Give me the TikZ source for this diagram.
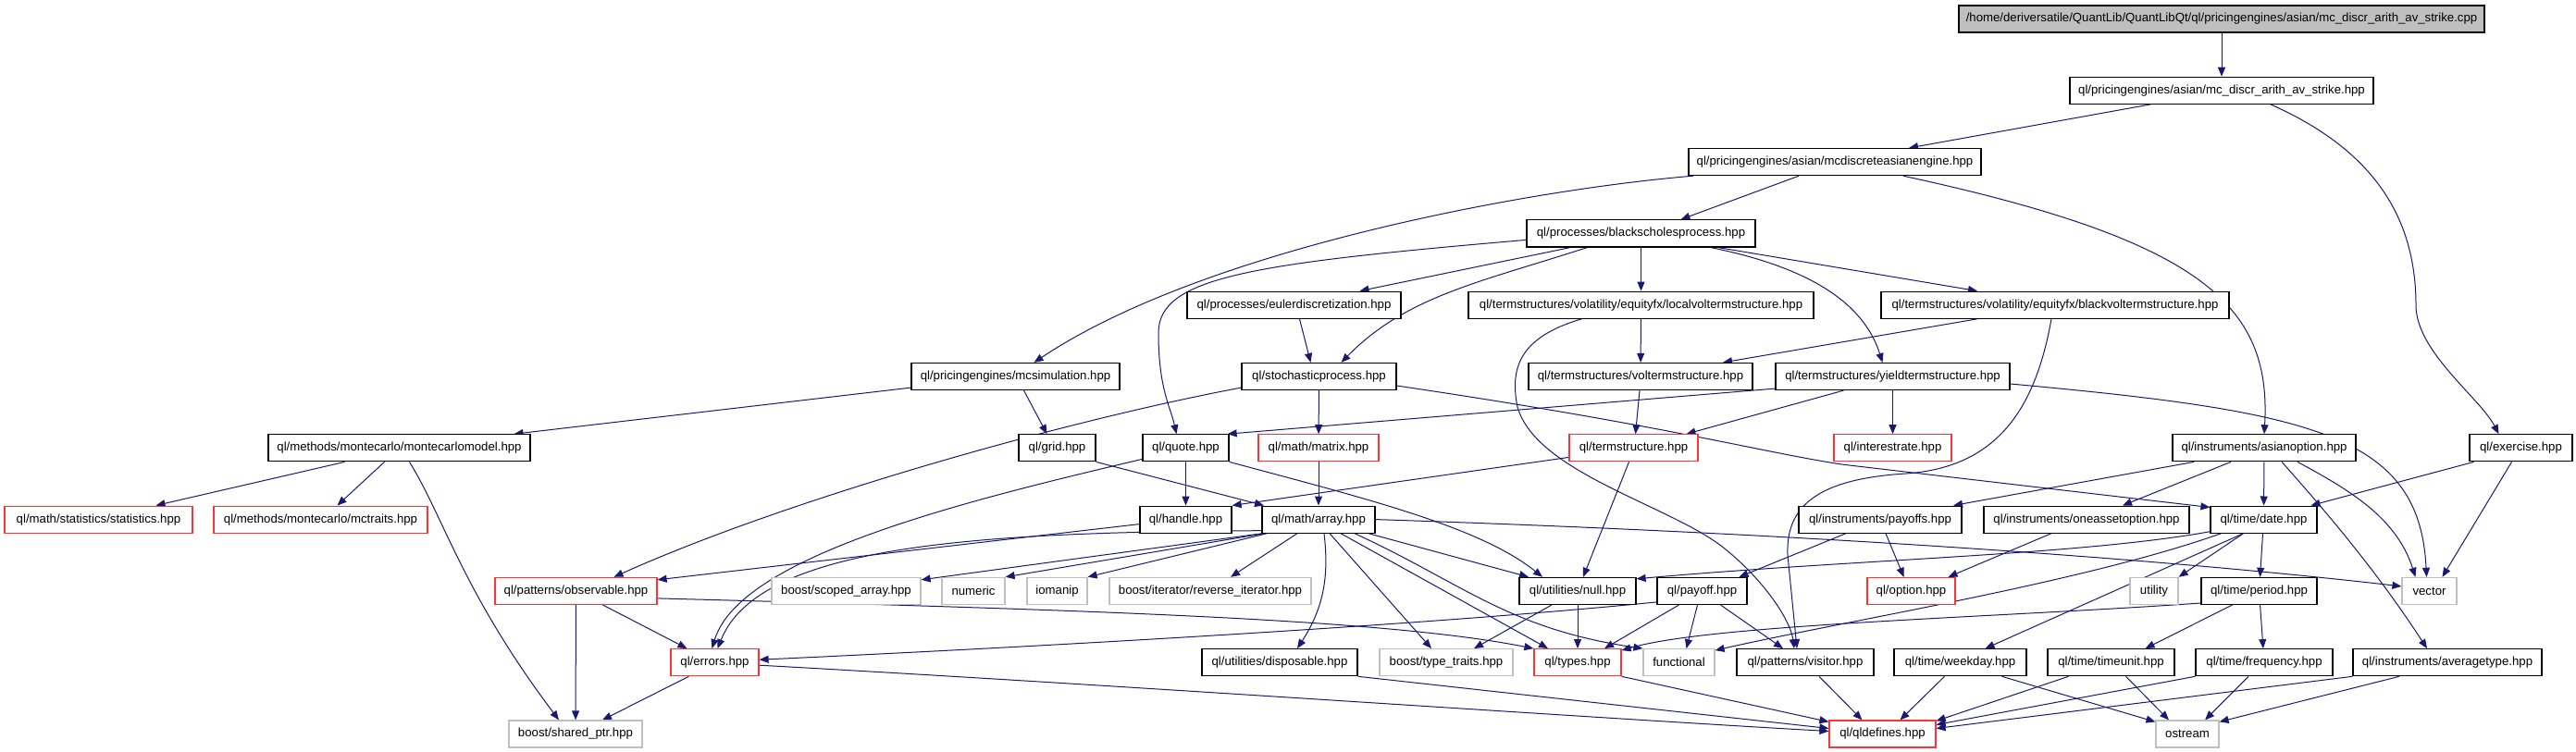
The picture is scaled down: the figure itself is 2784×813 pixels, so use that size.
\documentclass[tikz,border=0pt]{standalone}
\usepackage{fontspec}
\setmainfont{Liberation Sans}
\usetikzlibrary{arrows.meta}
\definecolor{edgecol}{RGB}{25,25,112}
\definecolor{redb}{RGB}{255,51,51}
\definecolor{grayb}{RGB}{191,191,191}
\pgfdeclarelayer{background}
\pgfsetlayers{background,main}
\begin{document}
\begin{tikzpicture}[x=1pt,y=-1pt,
  box/.style={draw=black, line width=1.2pt, minimum height=29pt, inner xsep=3pt, inner ysep=0pt, font=\fontsize{13.2}{15}\selectfont, fill=white},
  nb/.style={box},
  rb/.style={box, draw=redb},
  gb/.style={box, draw=grayb},
  rootb/.style={box, fill=grayb},
  edg/.style={draw=edgecol, line width=1pt, -{Triangle[length=10pt,width=8pt]}}]
\useasboundingbox (0,0) rectangle (2784,813);
% row 0-5
\node[rootb, minimum width=568pt] (root) at (2401,20.5) {/home/deriversatile/QuantLib/QuantLibQt/ql/pricingengines/asian/mc\_discr\_arith\_av\_strike.cpp};
\node[nb, minimum width=328pt] (mcarith) at (2401,97.8) {ql/pricingengines/asian/mc\_discr\_arith\_av\_strike.hpp};
\node[nb, minimum width=316pt] (mcdae) at (1983,175.1) {ql/pricingengines/asian/mcdiscreteasianengine.hpp};
\node[nb, minimum width=247pt] (bsp) at (1773.5,252.4) {ql/processes/blackscholesprocess.hpp};
\node[nb, minimum width=231pt] (euler) at (1398.5,329.7) {ql/processes/eulerdiscretization.hpp};
\node[nb, minimum width=373pt] (localvol) at (1773.5,329.7) {ql/termstructures/volatility/equityfx/localvoltermstructure.hpp};
\node[nb, minimum width=376pt] (blackvol) at (2221,329.7) {ql/termstructures/volatility/equityfx/blackvoltermstructure.hpp};
\node[nb, minimum width=225pt] (mcsim) at (1097.5,407) {ql/pricingengines/mcsimulation.hpp};
\node[nb, minimum width=167pt] (stoch) at (1425.5,407) {ql/stochasticprocess.hpp};
\node[nb, minimum width=242pt] (voltermstr) at (1773,407) {ql/termstructures/voltermstructure.hpp};
\node[nb, minimum width=253pt] (yield) at (2045.5,407) {ql/termstructures/yieldtermstructure.hpp};
% row 6
\node[nb, minimum width=283pt] (mcmodel) at (431.5,484.3) {ql/methods/montecarlo/montecarlomodel.hpp};
\node[nb, minimum width=83pt] (grid) at (1142.5,484.3) {ql/grid.hpp};
\node[nb, minimum width=93pt] (quote) at (1281.5,484.3) {ql/quote.hpp};
\node[rb, minimum width=130pt] (matrix) at (1425,484.3) {ql/math/matrix.hpp};
\node[rb, minimum width=139pt] (termstr) at (1765.5,484.3) {ql/termstructure.hpp};
\node[rb, minimum width=127pt] (interestrate) at (2045.5,484.3) {ql/interestrate.hpp};
\node[nb, minimum width=198pt] (asianopt) at (2447,484.3) {ql/instruments/asianoption.hpp};
\node[nb, minimum width=111pt] (exercise) at (2724.5,484.3) {ql/exercise.hpp};
% row 7
\node[rb, minimum width=203pt] (statistics) at (106.5,561.6) {ql/math/statistics/statistics.hpp};
\node[rb, minimum width=231pt] (mctraits) at (346.5,561.6) {ql/methods/montecarlo/mctraits.hpp};
\node[nb, minimum width=99pt] (handle) at (1281.5,561.6) {ql/handle.hpp};
\node[nb, minimum width=122pt] (array) at (1425,561.6) {ql/math/array.hpp};
\node[nb, minimum width=176pt] (payoffs) at (2032,561.6) {ql/instruments/payoffs.hpp};
\node[nb, minimum width=222pt] (oneasset) at (2255,561.6) {ql/instruments/oneassetoption.hpp};
\node[nb, minimum width=115pt] (date) at (2446.5,561.6) {ql/time/date.hpp};
% row 8
\node[rb, minimum width=175pt] (observable) at (622.5,638.9) {ql/patterns/observable.hpp};
\node[gb, minimum width=161pt] (scopedarray) at (914.5,638.9) {boost/scoped\_array.hpp};
\node[gb, minimum width=68pt] (numeric) at (1052,638.9) {numeric};
\node[gb, minimum width=65pt] (iomanip) at (1142.5,638.9) {iomanip};
\node[gb, minimum width=218pt] (reviter) at (1308,638.9) {boost/iterator/reverse\_iterator.hpp};
\node[nb, minimum width=126pt] (null) at (1705,638.9) {ql/utilities/null.hpp};
\node[nb, minimum width=97pt] (payoff) at (1839.5,638.9) {ql/payoff.hpp};
\node[rb, minimum width=95pt] (option) at (2065.5,638.9) {ql/option.hpp};
\node[gb, minimum width=52pt] (utility) at (2328,638.9) {utility};
\node[nb, minimum width=125pt] (period) at (2441.5,638.9) {ql/time/period.hpp};
\node[gb, minimum width=59pt] (vector) at (2625.5,638.9) {vector};
% row 9
\node[rb, minimum width=95pt] (errors) at (772.5,716.2) {ql/errors.hpp};
\node[nb, minimum width=168pt] (disposable) at (1383,716.2) {ql/utilities/disposable.hpp};
\node[gb, minimum width=144pt] (typetraits) at (1563,716.2) {boost/type\_traits.hpp};
\node[rb, minimum width=94pt] (types) at (1705,716.2) {ql/types.hpp};
\node[gb, minimum width=77pt] (functional) at (1814.5,716.2) {functional};
\node[nb, minimum width=148pt] (visitor) at (1951,716.2) {ql/patterns/visitor.hpp};
\node[nb, minimum width=143pt] (weekday) at (2118.5,716.2) {ql/time/weekday.hpp};
\node[nb, minimum width=137pt] (timeunit) at (2281.5,716.2) {ql/time/timeunit.hpp};
\node[nb, minimum width=148pt] (frequency) at (2447,716.2) {ql/time/frequency.hpp};
\node[nb, minimum width=204pt] (averagetype) at (2645,716.2) {ql/instruments/averagetype.hpp};
% row 10
\node[gb, minimum width=144pt] (sharedptr) at (622,793.5) {boost/shared\_ptr.hpp};
\node[rb, minimum width=115pt] (qldefines) at (2034.5,793.5) {ql/qldefines.hpp};
\node[gb, minimum width=68pt] (ostream) at (2364,793.5) {ostream};

\begin{pgfonlayer}{background}
\fill[white] (0,0) rectangle (2784,813);
\draw[edg] (root) -- (mcarith);
\draw[edg] ([xshift=-77pt]mcarith.south) -- ([xshift=80pt]mcdae.north);
\draw[edg] ([xshift=53pt]mcarith.south) .. controls (2560,160) and (2611,230) .. (2611,330) .. controls (2611,380) and (2680,430) .. ([xshift=-24pt]exercise.north);
\draw[edg] ([xshift=-39pt]mcdae.south) -- ([xshift=43pt]bsp.north);
\draw[edg] ([xshift=-153pt]mcdae.south) .. controls (1650,205) and (1300,270) .. ([xshift=20pt]mcsim.north);
\draw[edg] ([xshift=74pt]mcdae.south) .. controls (2380,260) and (2455,330) .. (asianopt.north);
\draw[edg] ([xshift=-76pt]bsp.south) -- ([xshift=71pt]euler.north);
\draw[edg] (bsp) -- (localvol);
\draw[edg] ([xshift=83pt]bsp.south) -- ([xshift=-84pt]blackvol.north);
\draw[edg] ([xshift=-58pt]bsp.south) .. controls (1600,305) and (1520,320) .. ([xshift=24pt]stoch.north);
\draw[edg] ([yshift=-7pt]bsp.west) .. controls (1350,285) and (1252,300) .. (1252,360) .. controls (1252,420) and (1265,440) .. ([xshift=-10pt]quote.north);
\draw[edg] ([xshift=75pt]bsp.south) .. controls (1960,290) and (2015,330) .. ([xshift=-11pt]yield.north);
\draw[edg] ([xshift=6pt]euler.south) -- ([xshift=-9pt]stoch.north);
\draw[edg] (localvol) -- (voltermstr);
\draw[edg] ([xshift=-64pt]localvol.south) .. controls (1640,365) and (1632,400) .. (1640,440) .. controls (1660,510) and (1800,545) .. (1860,590) .. controls (1905,625) and (1935,670) .. ([xshift=-12pt]visitor.north);
\draw[edg] ([xshift=-84pt]blackvol.south) -- ([xshift=89pt]voltermstr.north);
\draw[edg] ([xshift=-4pt]blackvol.south) .. controls (2200,440) and (2160,505) .. (2060,512) .. controls (1960,518) and (1930,550) .. (1932,600) -- ([xshift=-9pt]visitor.north);
\draw[edg] ([yshift=3pt]mcsim.south west) -- ([xshift=124pt]mcmodel.north);
\draw[edg] ([xshift=9pt]mcsim.south) -- ([xshift=-11pt]grid.north);
\draw[edg] (stoch) -- (matrix);
\draw[edg] ([yshift=3pt]stoch.south west) .. controls (1150,455) and (850,540) .. ([xshift=41pt]observable.north);
\draw[edg] ([yshift=-10pt]stoch.east) .. controls (1800,460) and (1900,488) .. (1990,502) -- ([yshift=-2pt]date.north west);
\draw[edg] ([xshift=-1pt]voltermstr.south) -- ([xshift=2pt]termstr.north);
\draw[edg] ([xshift=-53pt]yield.south) -- ([xshift=57pt]termstr.north);
\draw[edg] (yield) -- (interestrate);
\draw[edg] ([yshift=2pt]yield.south west) -- ([xshift=-2pt]quote.north east);
\draw[edg] ([yshift=-8pt]yield.east) .. controls (2500,445) and (2615,470) .. ([xshift=-3pt]vector.north);
\draw[edg] ([xshift=-59pt]mcmodel.south) -- ([xshift=62pt]statistics.north);
\draw[edg] ([xshift=-16pt]mcmodel.south) -- ([xshift=18pt]mctraits.north);
\draw[edg] ([xshift=11pt]mcmodel.south) .. controls (480,560) and (500,640) .. ([xshift=-18pt]sharedptr.north);
\draw[edg] (grid.south east) -- ([xshift=-59pt]array.north);
\draw[edg] (quote) -- (handle);
\draw[edg] (quote.south east) .. controls (1480,540) and (1600,570) .. ([xshift=-38pt]null.north);
\draw[edg] ([yshift=3pt]quote.south west) .. controls (1050,540) and (800,600) .. ([xshift=-3pt]errors.north);
\draw[edg] (matrix) -- (array);
\draw[edg] ([yshift=5pt]termstr.south west) -- (handle.north east);
\draw[edg] ([xshift=-5pt]termstr.south) -- ([xshift=6pt]null.north);
\draw[edg] ([xshift=-76pt]asianopt.south) -- ([xshift=79pt]payoffs.north);
\draw[edg] ([xshift=-36pt]asianopt.south) -- ([xshift=39pt]oneasset.north);
\draw[edg] (asianopt) -- (date);
\draw[edg] ([xshift=36pt]asianopt.south) .. controls (2540,530) and (2590,560) .. ([xshift=-15pt]vector.north);
\draw[edg] ([xshift=19pt]asianopt.south) .. controls (2520,560) and (2570,620) .. ([xshift=-22pt]averagetype.north);
\draw[edg] ([xshift=-51pt]exercise.south) -- ([xshift=51pt]date.north);
\draw[edg] ([xshift=-10pt]exercise.south) -- ([xshift=14pt]vector.north);
\draw[edg] ([yshift=-5pt]handle.west) -- ([yshift=-3pt]observable.north east);
\draw[edg] ([yshift=3pt]array.south west) .. controls (1050,575) and (820,590) .. ([xshift=3pt]errors.north);
\draw[edg] ([xshift=1pt]array.south west) -- ([yshift=-3pt]scopedarray.north east);
\draw[edg] ([xshift=3pt]array.south west) -- (numeric.north east);
\draw[edg] ([xshift=6pt]array.south west) -- (iomanip.north east);
\draw[edg] ([xshift=-23pt]array.south) -- ([xshift=22pt]reviter.north);
\draw[edg] ([xshift=54pt]array.south) -- ([xshift=-53pt]null.north);
\draw[edg] ([xshift=6pt]array.south) .. controls (1436,620) and (1432,655) .. ([xshift=19pt]disposable.north);
\draw[edg] ([xshift=12pt]array.south) -- ([xshift=-16pt]typetraits.north);
\draw[edg] ([xshift=24pt]array.south) -- ([xshift=-32pt]types.north);
\draw[edg] ([xshift=39pt]array.south) .. controls (1580,630) and (1630,680) .. (functional.north west);
\draw[edg] (array.east) .. controls (1900,575) and (2300,600) .. ([yshift=5pt]vector.west);
\draw[edg] ([xshift=-37pt]payoffs.south) -- ([xshift=40pt]payoff.north);
\draw[edg] ([xshift=6pt]payoffs.south) -- ([xshift=-8pt]option.north);
\draw[edg] ([xshift=-38pt]oneasset.south) -- ([xshift=40pt]option.north);
\draw[edg] ([yshift=2pt]date.south west) .. controls (2250,600) and (2000,605) .. ([yshift=-2pt]null.north east);
\draw[edg] ([xshift=-46pt]date.south) .. controls (2250,630) and (2000,670) .. ([yshift=-2pt]functional.north east);
\draw[edg] ([xshift=-22pt]date.south) -- ([xshift=27pt]weekday.north);
\draw[edg] ([xshift=-22pt]date.south) -- (utility.north east);
\draw[edg] (date) -- (period);
\draw[edg] (observable) -- (sharedptr);
\draw[edg] ([xshift=29pt]observable.south) -- ([xshift=-30pt]errors.north);
\draw[edg] ([yshift=-8pt]observable.east) .. controls (1200,660) and (1500,670) .. (types.north west);
\draw[edg] ([xshift=-28pt]null.south) -- ([xshift=30pt]typetraits.north);
\draw[edg] (null) -- (types);
\draw[edg] ([yshift=-12pt]payoff.west) .. controls (1500,680) and (1000,705) .. ([yshift=3pt]errors.east);
\draw[edg] ([xshift=-25pt]payoff.south) -- ([xshift=29pt]types.north);
\draw[edg] ([xshift=-5pt]payoff.south) -- ([xshift=8pt]functional.north);
\draw[edg] ([xshift=20pt]payoff.south) -- ([xshift=-24pt]visitor.north);
\draw[edg] ([yshift=2pt]period.south west) .. controls (2150,668) and (1850,675) .. ([yshift=-2pt]types.north east);
\draw[edg] ([xshift=-29pt]period.south) -- ([xshift=37pt]timeunit.north);
\draw[edg] (period) -- (frequency);
\draw[edg] ([xshift=-28pt]errors.south) -- ([xshift=29pt]sharedptr.north);
\draw[edg] ([yshift=-3pt]errors.east) .. controls (1200,740) and (1700,775) .. ([yshift=3pt]qldefines.west);
\draw[edg] (disposable.south east) -- ([yshift=6pt]qldefines.west);
\draw[edg] (types.south east) -- ([yshift=-2pt]qldefines.north west);
\draw[edg] ([xshift=15pt]visitor.south) -- ([xshift=-22pt]qldefines.north);
\draw[edg] ([xshift=-17pt]weekday.south) -- ([xshift=19pt]qldefines.north);
\draw[edg] ([xshift=45pt]weekday.south) -- ([yshift=-2pt]ostream.north west);
\draw[edg] ([xshift=-46pt]timeunit.south) -- ([yshift=-1pt]qldefines.north east);
\draw[edg] ([xshift=16pt]timeunit.south) -- ([xshift=-20pt]ostream.north);
\draw[edg] (frequency.south west) -- ([yshift=10pt]qldefines.east);
\draw[edg] ([xshift=-17pt]frequency.south) -- ([xshift=19pt]ostream.north);
\draw[edg] (averagetype.south west) -- ([yshift=6pt]qldefines.east);
\draw[edg] ([xshift=-52pt]averagetype.south) -- ([yshift=-2pt]ostream.north east);
\end{pgfonlayer}
\end{tikzpicture}
\end{document}
